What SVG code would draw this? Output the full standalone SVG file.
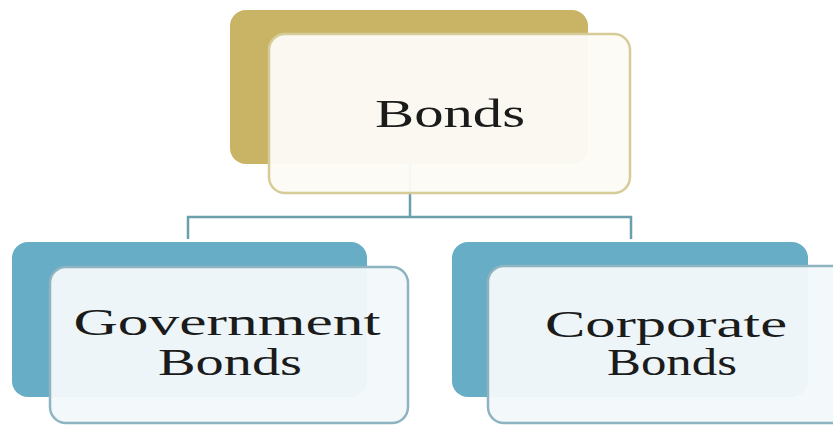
<svg xmlns="http://www.w3.org/2000/svg" width="833" height="425" viewBox="0 0 833 425">
  <style>
    .back-gold { fill: #c9b466; }
    .front-gold { fill: #fcfbf6; fill-opacity: 0.96; stroke: #d6cc98; stroke-width: 2.5; }
    .back-blue { fill: #67adc6; }
    .front-blue { fill: #f3f8fa; fill-opacity: 0.96; stroke: #8db4c0; stroke-width: 2.5; }
    .label { font-family: "Liberation Serif", "Times New Roman", serif; fill: #1b1b1b; text-anchor: middle; }
    .link { fill: none; stroke: #6c9fac; stroke-width: 2.5; }
  </style>
  <rect width="833" height="425" fill="#ffffff"/>

  <!-- connectors: drawn first so the translucent cards sit over them -->
  <g id="connectors">
    <path class="link" d="M410 163 V217 M188 239 V217 H631 V239"/>
  </g>

  <!-- root: Bonds -->
  <g id="node-bonds">
    <rect class="back-gold" x="230" y="10" width="358" height="154" rx="16"/>
    <rect class="front-gold" x="269" y="34" width="361" height="159" rx="16"/>
    <text class="label" x="450" y="127" font-size="40" textLength="150" lengthAdjust="spacingAndGlyphs">Bonds</text>
  </g>

  <!-- child: Government Bonds -->
  <g id="node-government">
    <rect class="back-blue" x="12" y="242" width="355" height="155" rx="16"/>
    <rect class="front-blue" x="50" y="267" width="358" height="156" rx="16"/>
    <text class="label" x="227" y="335" font-size="37" textLength="307" lengthAdjust="spacingAndGlyphs">Government</text>
    <text class="label" x="230" y="375" font-size="37" textLength="144" lengthAdjust="spacingAndGlyphs">Bonds</text>
  </g>

  <!-- child: Corporate Bonds -->
  <g id="node-corporate">
    <rect class="back-blue" x="452" y="242" width="356" height="155" rx="16"/>
    <rect class="front-blue" x="488" y="266" width="360" height="157" rx="16"/>
    <text class="label" x="666" y="337" font-size="37" textLength="242" lengthAdjust="spacingAndGlyphs">Corporate</text>
    <text class="label" x="672" y="375" font-size="37" textLength="130" lengthAdjust="spacingAndGlyphs">Bonds</text>
  </g>
</svg>
